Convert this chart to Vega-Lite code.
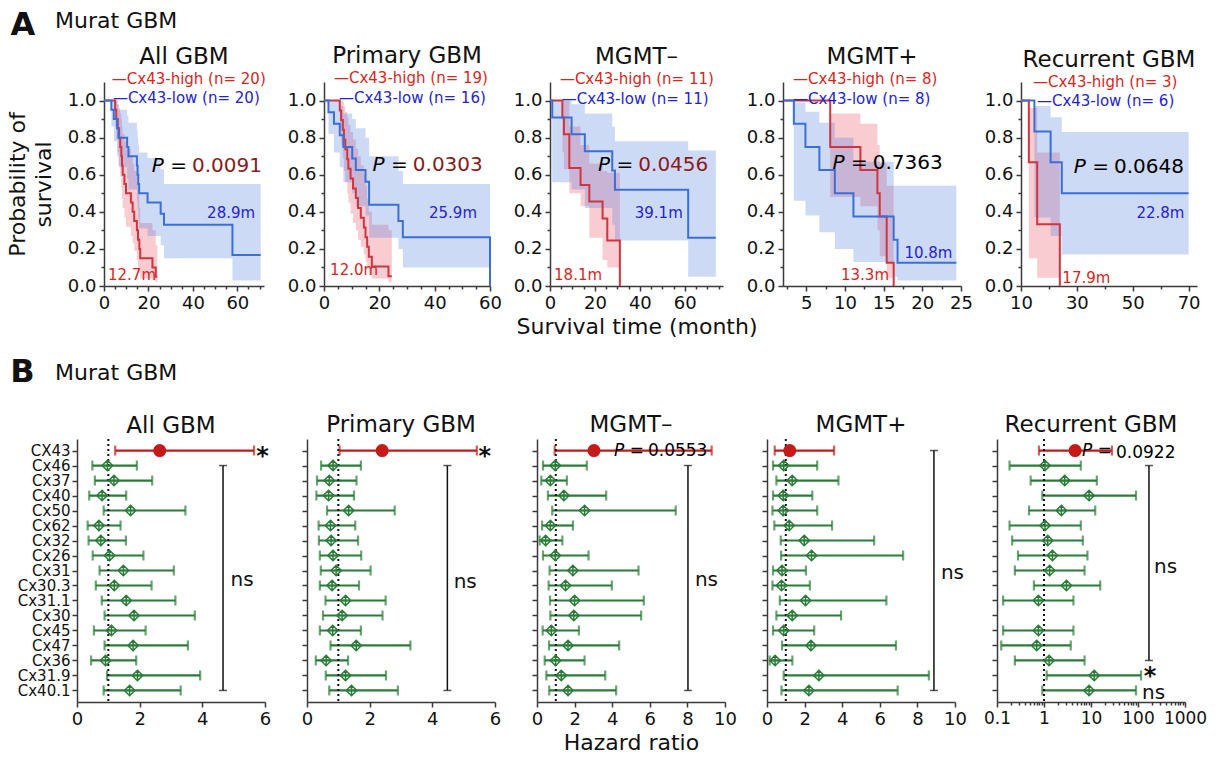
{
"$schema": "https://vega.github.io/schema/vega-lite/v6.json",
"padding": {"left": 6, "top": 8, "right": 5, "bottom": 5},
"datasets": {
"km": [
{"p":1,"g":"high","t":0,"s":1,"lo":1,"hi":1},{"p":1,"g":"high","t":5.0,"s":0.95,"lo":0.86,"hi":1},{"p":1,"g":"high","t":5.5,"s":0.90,"lo":0.79,"hi":1},{"p":1,"g":"high","t":6.2,"s":0.85,"lo":0.72,"hi":0.98},{"p":1,"g":"high","t":6.8,"s":0.80,"lo":0.65,"hi":0.96},{"p":1,"g":"high","t":7.3,"s":0.75,"lo":0.59,"hi":0.93},{"p":1,"g":"high","t":7.8,"s":0.70,"lo":0.53,"hi":0.90},{"p":1,"g":"high","t":8.1,"s":0.65,"lo":0.47,"hi":0.86},{"p":1,"g":"high","t":8.4,"s":0.60,"lo":0.42,"hi":0.82},{"p":1,"g":"high","t":9.2,"s":0.55,"lo":0.37,"hi":0.78},{"p":1,"g":"high","t":9.9,"s":0.50,"lo":0.32,"hi":0.74},{"p":1,"g":"high","t":12.1,"s":0.45,"lo":0.27,"hi":0.70},{"p":1,"g":"high","t":12.9,"s":0.40,"lo":0.23,"hi":0.66},{"p":1,"g":"high","t":13.6,"s":0.35,"lo":0.19,"hi":0.62},{"p":1,"g":"high","t":14.8,"s":0.30,"lo":0.14,"hi":0.56},{"p":1,"g":"high","t":15.3,"s":0.25,"lo":0.10,"hi":0.50},{"p":1,"g":"high","t":15.9,"s":0.20,"lo":0.07,"hi":0.42},{"p":1,"g":"high","t":16.3,"s":0.15,"lo":0.04,"hi":0.34},{"p":1,"g":"high","t":21.8,"s":0.10,"lo":0.03,"hi":0.30},{"p":1,"g":"high","t":23.3,"s":0.05,"lo":0.02,"hi":0.22},{"p":1,"g":"high","t":24.0,"s":0.05,"lo":0.02,"hi":0.22},
{"p":1,"g":"low","t":0,"s":1,"lo":1,"hi":1},{"p":1,"g":"low","t":3.3,"s":0.95,"lo":0.86,"hi":1},{"p":1,"g":"low","t":4.4,"s":0.90,"lo":0.78,"hi":1},{"p":1,"g":"low","t":5.9,"s":0.85,"lo":0.70,"hi":0.98},{"p":1,"g":"low","t":6.5,"s":0.80,"lo":0.64,"hi":0.95},{"p":1,"g":"low","t":10.4,"s":0.75,"lo":0.58,"hi":0.92},{"p":1,"g":"low","t":11.0,"s":0.70,"lo":0.52,"hi":0.88},{"p":1,"g":"low","t":14.8,"s":0.65,"lo":0.46,"hi":0.84},{"p":1,"g":"low","t":15.1,"s":0.60,"lo":0.41,"hi":0.80},{"p":1,"g":"low","t":15.4,"s":0.55,"lo":0.36,"hi":0.76},{"p":1,"g":"low","t":15.8,"s":0.50,"lo":0.31,"hi":0.72},{"p":1,"g":"low","t":19.6,"s":0.45,"lo":0.27,"hi":0.69},{"p":1,"g":"low","t":25.5,"s":0.39,"lo":0.22,"hi":0.63},{"p":1,"g":"low","t":27.0,"s":0.33,"lo":0.15,"hi":0.55},{"p":1,"g":"low","t":57.8,"s":0.167,"lo":0.03,"hi":0.55},{"p":1,"g":"low","t":70.5,"s":0.167,"lo":0.03,"hi":0.55},
{"p":2,"g":"high","t":0,"s":1,"lo":1,"hi":1},{"p":2,"g":"high","t":5.7,"s":0.947,"lo":0.85,"hi":1},{"p":2,"g":"high","t":6.2,"s":0.895,"lo":0.76,"hi":1},{"p":2,"g":"high","t":6.8,"s":0.842,"lo":0.69,"hi":0.99},{"p":2,"g":"high","t":7.2,"s":0.789,"lo":0.62,"hi":0.97},{"p":2,"g":"high","t":7.7,"s":0.737,"lo":0.56,"hi":0.94},{"p":2,"g":"high","t":8.4,"s":0.684,"lo":0.50,"hi":0.91},{"p":2,"g":"high","t":8.8,"s":0.632,"lo":0.45,"hi":0.87},{"p":2,"g":"high","t":9.6,"s":0.579,"lo":0.39,"hi":0.83},{"p":2,"g":"high","t":10.5,"s":0.526,"lo":0.34,"hi":0.79},{"p":2,"g":"high","t":11.5,"s":0.474,"lo":0.30,"hi":0.74},{"p":2,"g":"high","t":12.3,"s":0.421,"lo":0.25,"hi":0.70},{"p":2,"g":"high","t":13.3,"s":0.368,"lo":0.21,"hi":0.65},{"p":2,"g":"high","t":14.4,"s":0.316,"lo":0.17,"hi":0.60},{"p":2,"g":"high","t":15.0,"s":0.263,"lo":0.13,"hi":0.54},{"p":2,"g":"high","t":15.6,"s":0.211,"lo":0.09,"hi":0.47},{"p":2,"g":"high","t":16.2,"s":0.158,"lo":0.06,"hi":0.40},{"p":2,"g":"high","t":17.3,"s":0.105,"lo":0.04,"hi":0.33},{"p":2,"g":"high","t":23.3,"s":0.053,"lo":0.02,"hi":0.30},{"p":2,"g":"high","t":24.5,"s":0.053,"lo":0.02,"hi":0.30},
{"p":2,"g":"low","t":0,"s":1,"lo":1,"hi":1},{"p":2,"g":"low","t":1.6,"s":0.9375,"lo":0.82,"hi":1},{"p":2,"g":"low","t":3.6,"s":0.875,"lo":0.72,"hi":1},{"p":2,"g":"low","t":5.7,"s":0.8125,"lo":0.64,"hi":0.97},{"p":2,"g":"low","t":7.0,"s":0.75,"lo":0.56,"hi":0.93},{"p":2,"g":"low","t":10.2,"s":0.6875,"lo":0.50,"hi":0.90},{"p":2,"g":"low","t":11.5,"s":0.625,"lo":0.43,"hi":0.85},{"p":2,"g":"low","t":15.0,"s":0.5625,"lo":0.38,"hi":0.80},{"p":2,"g":"low","t":16.3,"s":0.4375,"lo":0.26,"hi":0.70},{"p":2,"g":"low","t":26.9,"s":0.35,"lo":0.20,"hi":0.62},{"p":2,"g":"low","t":28.5,"s":0.2625,"lo":0.10,"hi":0.55},{"p":2,"g":"low","t":60,"s":0,"lo":0.10,"hi":0.55},
{"p":3,"g":"high","t":0,"s":1,"lo":1,"hi":1},{"p":3,"g":"high","t":5.5,"s":0.909,"lo":0.72,"hi":1},{"p":3,"g":"high","t":6.2,"s":0.818,"lo":0.63,"hi":1},{"p":3,"g":"high","t":8.6,"s":0.636,"lo":0.50,"hi":0.86},{"p":3,"g":"high","t":13.6,"s":0.545,"lo":0.43,"hi":0.76},{"p":3,"g":"high","t":17.5,"s":0.455,"lo":0.26,"hi":0.66},{"p":3,"g":"high","t":23.4,"s":0.364,"lo":0.14,"hi":0.62},{"p":3,"g":"high","t":25.5,"s":0.245,"lo":0.10,"hi":0.61},{"p":3,"g":"high","t":31.1,"s":0,"lo":0.10,"hi":0.61},
{"p":3,"g":"low","t":0,"s":1,"lo":1,"hi":1},{"p":3,"g":"low","t":1.0,"s":0.909,"lo":0.56,"hi":1},{"p":3,"g":"low","t":9.6,"s":0.818,"lo":0.52,"hi":0.98},{"p":3,"g":"low","t":15.5,"s":0.727,"lo":0.42,"hi":0.93},{"p":3,"g":"low","t":27.7,"s":0.623,"lo":0.33,"hi":0.86},{"p":3,"g":"low","t":28.9,"s":0.519,"lo":0.245,"hi":0.78},{"p":3,"g":"low","t":61.5,"s":0.26,"lo":0.05,"hi":0.73},{"p":3,"g":"low","t":73.8,"s":0.26,"lo":0.05,"hi":0.73},
{"p":4,"g":"high","t":2.1,"s":1,"lo":1,"hi":1},{"p":4,"g":"high","t":8.1,"s":0.75,"lo":0.48,"hi":0.93},{"p":4,"g":"high","t":12.0,"s":0.625,"lo":0.43,"hi":0.875},{"p":4,"g":"high","t":14.2,"s":0.5,"lo":0.30,"hi":0.76},{"p":4,"g":"high","t":14.5,"s":0.375,"lo":0.16,"hi":0.66},{"p":4,"g":"high","t":15.4,"s":0.125,"lo":0.045,"hi":0.54},{"p":4,"g":"high","t":16.3,"s":0,"lo":0.045,"hi":0.54},
{"p":4,"g":"low","t":2.1,"s":1,"lo":1,"hi":1},{"p":4,"g":"low","t":3.4,"s":0.875,"lo":0.46,"hi":0.99},{"p":4,"g":"low","t":4.9,"s":0.75,"lo":0.38,"hi":0.94},{"p":4,"g":"low","t":6.7,"s":0.625,"lo":0.29,"hi":0.88},{"p":4,"g":"low","t":8.7,"s":0.5,"lo":0.20,"hi":0.80},{"p":4,"g":"low","t":11.1,"s":0.375,"lo":0.13,"hi":0.67},{"p":4,"g":"low","t":16.3,"s":0.25,"lo":0.05,"hi":0.54},{"p":4,"g":"low","t":16.8,"s":0.125,"lo":0.03,"hi":0.54},{"p":4,"g":"low","t":24.4,"s":0.125,"lo":0.03,"hi":0.54},
{"p":5,"g":"high","t":10,"s":1,"lo":1,"hi":1},{"p":5,"g":"high","t":12.8,"s":0.667,"lo":0.15,"hi":0.96},{"p":5,"g":"high","t":15.8,"s":0.333,"lo":0.045,"hi":0.72},{"p":5,"g":"high","t":23.9,"s":0,"lo":0.045,"hi":0.72},
{"p":5,"g":"low","t":10,"s":1,"lo":1,"hi":1},{"p":5,"g":"low","t":14.8,"s":0.833,"lo":0.37,"hi":0.97},{"p":5,"g":"low","t":20.6,"s":0.667,"lo":0.27,"hi":0.91},{"p":5,"g":"low","t":24.6,"s":0.5,"lo":0.17,"hi":0.83},{"p":5,"g":"low","t":70,"s":0.5,"lo":0.17,"hi":0.83}
],
"hr": [
{"p":1,"gene":"CX43","hr":2.64,"lo":1.22,"hi":5.65},{"p":1,"gene":"Cx46","hr":0.97,"lo":0.49,"hi":1.91},{"p":1,"gene":"Cx37","hr":1.18,"lo":0.57,"hi":2.40},{"p":1,"gene":"Cx40","hr":0.80,"lo":0.39,"hi":1.57},{"p":1,"gene":"Cx50","hr":1.71,"lo":0.85,"hi":3.46},{"p":1,"gene":"Cx62","hr":0.70,"lo":0.34,"hi":1.39},{"p":1,"gene":"Cx32","hr":0.76,"lo":0.37,"hi":1.56},{"p":1,"gene":"Cx26","hr":1.04,"lo":0.50,"hi":2.12},{"p":1,"gene":"Cx31","hr":1.48,"lo":0.72,"hi":3.09},{"p":1,"gene":"Cx30.3","hr":1.19,"lo":0.60,"hi":2.38},{"p":1,"gene":"Cx31.1","hr":1.57,"lo":0.79,"hi":3.14},{"p":1,"gene":"Cx30","hr":1.82,"lo":0.88,"hi":3.76},{"p":1,"gene":"Cx45","hr":1.10,"lo":0.54,"hi":2.19},{"p":1,"gene":"Cx47","hr":1.79,"lo":0.88,"hi":3.54},{"p":1,"gene":"Cx36","hr":0.91,"lo":0.45,"hi":1.89},{"p":1,"gene":"Cx31.9","hr":1.93,"lo":0.96,"hi":3.93},{"p":1,"gene":"Cx40.1","hr":1.68,"lo":0.85,"hi":3.31},
{"p":2,"gene":"CX43","hr":2.40,"lo":1.04,"hi":5.42},{"p":2,"gene":"Cx46","hr":0.83,"lo":0.45,"hi":1.72},{"p":2,"gene":"Cx37","hr":0.71,"lo":0.32,"hi":1.58},{"p":2,"gene":"Cx40","hr":0.69,"lo":0.30,"hi":1.50},{"p":2,"gene":"Cx50","hr":1.33,"lo":0.64,"hi":2.80},{"p":2,"gene":"Cx62","hr":0.75,"lo":0.37,"hi":1.54},{"p":2,"gene":"Cx32","hr":0.77,"lo":0.38,"hi":1.63},{"p":2,"gene":"Cx26","hr":0.83,"lo":0.41,"hi":1.73},{"p":2,"gene":"Cx31","hr":0.93,"lo":0.44,"hi":2.03},{"p":2,"gene":"Cx30.3","hr":0.80,"lo":0.41,"hi":1.66},{"p":2,"gene":"Cx31.1","hr":1.23,"lo":0.59,"hi":2.51},{"p":2,"gene":"Cx30","hr":1.12,"lo":0.51,"hi":2.41},{"p":2,"gene":"Cx45","hr":0.82,"lo":0.41,"hi":1.72},{"p":2,"gene":"Cx47","hr":1.57,"lo":0.75,"hi":3.30},{"p":2,"gene":"Cx36","hr":0.61,"lo":0.28,"hi":1.31},{"p":2,"gene":"Cx31.9","hr":1.23,"lo":0.60,"hi":2.52},{"p":2,"gene":"Cx40.1","hr":1.42,"lo":0.71,"hi":2.90},
{"p":3,"gene":"CX43","hr":3.03,"lo":0.94,"hi":9.29},{"p":3,"gene":"Cx46","hr":0.97,"lo":0.32,"hi":2.65},{"p":3,"gene":"Cx37","hr":0.71,"lo":0.23,"hi":1.59},{"p":3,"gene":"Cx40","hr":1.43,"lo":0.58,"hi":3.68},{"p":3,"gene":"Cx50","hr":2.53,"lo":0.81,"hi":7.38},{"p":3,"gene":"Cx62","hr":0.71,"lo":0.27,"hi":1.91},{"p":3,"gene":"Cx32","hr":0.46,"lo":0.14,"hi":1.35},{"p":3,"gene":"Cx26","hr":0.97,"lo":0.32,"hi":2.74},{"p":3,"gene":"Cx31","hr":1.91,"lo":0.67,"hi":5.40},{"p":3,"gene":"Cx30.3","hr":1.52,"lo":0.62,"hi":3.98},{"p":3,"gene":"Cx31.1","hr":2.00,"lo":0.69,"hi":5.68},{"p":3,"gene":"Cx30","hr":1.96,"lo":0.71,"hi":5.54},{"p":3,"gene":"Cx45","hr":0.76,"lo":0.30,"hi":2.23},{"p":3,"gene":"Cx47","hr":1.65,"lo":0.64,"hi":4.37},{"p":3,"gene":"Cx36","hr":0.99,"lo":0.41,"hi":2.53},{"p":3,"gene":"Cx31.9","hr":1.29,"lo":0.50,"hi":3.63},{"p":3,"gene":"Cx40.1","hr":1.65,"lo":0.65,"hi":4.21},
{"p":4,"gene":"CX43","hr":1.21,"lo":0.41,"hi":3.57},{"p":4,"gene":"Cx46","hr":0.89,"lo":0.32,"hi":2.67},{"p":4,"gene":"Cx37","hr":1.34,"lo":0.50,"hi":3.80},{"p":4,"gene":"Cx40","hr":0.86,"lo":0.32,"hi":2.41},{"p":4,"gene":"Cx50","hr":0.86,"lo":0.29,"hi":2.67},{"p":4,"gene":"Cx62","hr":1.18,"lo":0.39,"hi":3.46},{"p":4,"gene":"Cx32","hr":1.98,"lo":0.73,"hi":5.70},{"p":4,"gene":"Cx26","hr":2.37,"lo":0.75,"hi":7.24},{"p":4,"gene":"Cx31","hr":0.80,"lo":0.32,"hi":2.07},{"p":4,"gene":"Cx30.3","hr":0.77,"lo":0.29,"hi":2.28},{"p":4,"gene":"Cx31.1","hr":2.05,"lo":0.68,"hi":6.35},{"p":4,"gene":"Cx30","hr":1.34,"lo":0.50,"hi":3.94},{"p":4,"gene":"Cx45","hr":0.89,"lo":0.32,"hi":2.51},{"p":4,"gene":"Cx47","hr":2.34,"lo":0.80,"hi":6.86},{"p":4,"gene":"Cx36","hr":0.43,"lo":0.14,"hi":1.35},{"p":4,"gene":"Cx31.9","hr":2.76,"lo":0.89,"hi":8.61},{"p":4,"gene":"Cx40.1","hr":2.23,"lo":0.77,"hi":6.95},
{"p":5,"gene":"CX43","hr":4.59,"lo":0.78,"hi":27.9},{"p":5,"gene":"Cx46","hr":1.05,"lo":0.185,"hi":6.07},{"p":5,"gene":"Cx37","hr":2.76,"lo":0.52,"hi":13.3},{"p":5,"gene":"Cx40","hr":9.1,"lo":0.92,"hi":90.6},{"p":5,"gene":"Cx50","hr":2.34,"lo":0.48,"hi":12.3},{"p":5,"gene":"Cx62","hr":1.05,"lo":0.185,"hi":6.07},{"p":5,"gene":"Cx32","hr":1.20,"lo":0.21,"hi":6.7},{"p":5,"gene":"Cx26","hr":1.51,"lo":0.28,"hi":8.4},{"p":5,"gene":"Cx31","hr":1.32,"lo":0.24,"hi":7.3},{"p":5,"gene":"Cx30.3","hr":3.0,"lo":0.61,"hi":15.7},{"p":5,"gene":"Cx31.1","hr":0.76,"lo":0.135,"hi":4.23},{"p":5,"gene":"Cx45","hr":0.76,"lo":0.135,"hi":4.23},{"p":5,"gene":"Cx47","hr":0.70,"lo":0.123,"hi":3.71},{"p":5,"gene":"Cx36","hr":1.28,"lo":0.24,"hi":7.3},{"p":5,"gene":"Cx31.9","hr":11.7,"lo":1.14,"hi":116},{"p":5,"gene":"Cx40.1","hr":9.1,"lo":0.92,"hi":90.6}
]
},
"vconcat": [
{"hconcat": [
{"width": 1, "height": 1, "data": {"values": []}, "mark": "point"},
{"hconcat": [
{"width": 160, "height": 204, "title": {"text": "All GBM", "offset": -60},
 "resolve": {"axis": {"x": "independent", "y": "independent"}},
 "layer": [
 {"layer": [
  {"data": {"name": "km"}, "transform": [{"filter": "datum.p == 1"}], "mark": {"type": "area", "interpolate": "step-after", "fillOpacity": 0.28},
   "encoding": {"x": {"field": "t", "type": "quantitative", "scale": {"domain": [0, 72], "nice": false, "zero": false}, "axis": {"values": [0, 20, 40, 60], "labelOverlap": false, "title": null}},
    "y": {"field": "lo", "type": "quantitative", "scale": {"domain": [0, 1.1], "nice": false}, "axis": {"values": [0, 0.2, 0.4, 0.6, 0.8, 1], "labelOverlap": false, "format": ".1f", "title": ["Probability of", "survival"], "titlePadding": 12, "titleLineHeight": 26}},
    "y2": {"field": "hi"},
    "fill": {"field": "g", "type": "nominal", "scale": {"domain": ["high", "low"], "range": ["#e8495a", "#4a7ae0"]}, "legend": null}}},
  {"data": {"name": "km"}, "transform": [{"filter": "datum.p == 1"}], "mark": {"type": "line", "interpolate": "step-after", "strokeWidth": 2},
   "encoding": {"x": {"field": "t", "type": "quantitative", "title": null}, "y": {"field": "s", "type": "quantitative", "title": ["Probability of", "survival"]},
    "stroke": {"field": "g", "type": "nominal", "scale": {"domain": ["high", "low"], "range": ["#d0353f", "#3a6fd8"]}, "legend": null}}},
  {"data": {"values": [{}]}, "mark": {"type": "text", "align": "left", "fontSize": 15, "color": "#d9261c"}, "encoding": {"x": {"datum": 3.5}, "y": {"datum": 1.116}, "text": {"value": "—Cx43-high (n= 20)"}}},
  {"data": {"values": [{}]}, "mark": {"type": "text", "align": "left", "fontSize": 15, "color": "#2323d6"}, "encoding": {"x": {"datum": 4.0}, "y": {"datum": 1.013}, "text": {"value": "—Cx43-low (n= 20)"}}},
  {"data": {"values": [{}]}, "mark": {"type": "text", "align": "right", "dx": -5, "fontSize": 20, "fontStyle": "italic", "color": "#000"}, "encoding": {"x": {"datum": 39.6}, "y": {"datum": 0.647}, "text": {"value": "P ="}}},
  {"data": {"values": [{}]}, "mark": {"type": "text", "align": "left", "fontSize": 20, "color": "#8b1a1a"}, "encoding": {"x": {"datum": 39.6}, "y": {"datum": 0.647}, "text": {"value": "0.0091"}}},
  {"data": {"values": [{}]}, "mark": {"type": "text", "align": "right", "fontSize": 15, "color": "#2323d6"}, "encoding": {"x": {"datum": 68}, "y": {"datum": 0.393}, "text": {"value": "28.9m"}}},
  {"data": {"values": [{}]}, "mark": {"type": "text", "align": "left", "fontSize": 15, "color": "#d9261c"}, "encoding": {"x": {"datum": 1.8}, "y": {"datum": 0.059}, "text": {"value": "12.7m"}}},
  {"data": {"values": [{}]}, "mark": {"type": "text", "align": "center", "fontSize": 32, "fontWeight": "bold", "color": "#111"}, "encoding": {"x": {"datum": -36.5}, "y": {"datum": 1.41}, "text": {"value": "A"}}},
  {"data": {"values": [{}]}, "mark": {"type": "text", "align": "left", "fontSize": 22, "color": "#111"}, "encoding": {"x": {"datum": -22}, "y": {"datum": 1.43}, "text": {"value": "Murat GBM"}}}
 ]},
 {"data": {"values": [{}]}, "mark": {"type": "text", "text": ""}, "encoding": {"x": {"datum": 10, "axis": {"values": [5, 10, 15, 25, 30, 35, 45, 50, 55, 65, 70], "labels": false, "domain": false, "tickSize": 3, "title": null, "orient": "bottom"}}, "y": {"datum": 0.5, "axis": {"values": [0.1, 0.3, 0.5, 0.7, 0.9], "labels": false, "domain": false, "tickSize": 3, "title": null, "orient": "left"}}}}
 ]},
{"width": 166, "height": 204, "title": {"text": "Primary GBM", "offset": 3},
 "resolve": {"axis": {"x": "independent", "y": "independent"}},
 "layer": [
 {"layer": [
  {"data": {"name": "km"}, "transform": [{"filter": "datum.p == 2"}], "mark": {"type": "area", "interpolate": "step-after", "fillOpacity": 0.28},
   "encoding": {"x": {"field": "t", "type": "quantitative", "scale": {"domain": [0, 60], "nice": false, "zero": false}, "axis": {"values": [0, 20, 40, 60], "labelOverlap": false, "title": null}},
    "y": {"field": "lo", "type": "quantitative", "scale": {"domain": [0, 1.1], "nice": false}, "axis": {"values": [0, 0.2, 0.4, 0.6, 0.8, 1], "labelOverlap": false, "format": ".1f", "title": null}},
    "y2": {"field": "hi"},
    "fill": {"field": "g", "type": "nominal", "scale": {"domain": ["high", "low"], "range": ["#e8495a", "#4a7ae0"]}, "legend": null}}},
  {"data": {"name": "km"}, "transform": [{"filter": "datum.p == 2"}], "mark": {"type": "line", "interpolate": "step-after", "strokeWidth": 2},
   "encoding": {"x": {"field": "t", "type": "quantitative", "title": null}, "y": {"field": "s", "type": "quantitative", "title": null},
    "stroke": {"field": "g", "type": "nominal", "scale": {"domain": ["high", "low"], "range": ["#d0353f", "#3a6fd8"]}, "legend": null}}},
  {"data": {"values": [{}]}, "mark": {"type": "text", "align": "left", "fontSize": 15, "color": "#d9261c"}, "encoding": {"x": {"datum": 3.6}, "y": {"datum": 1.123}, "text": {"value": "—Cx43-high (n= 19)"}}},
  {"data": {"values": [{}]}, "mark": {"type": "text", "align": "left", "fontSize": 15, "color": "#2323d6"}, "encoding": {"x": {"datum": 5.4}, "y": {"datum": 1.013}, "text": {"value": "—Cx43-low (n= 16)"}}},
  {"data": {"values": [{}]}, "mark": {"type": "text", "align": "right", "dx": -5, "fontSize": 20, "fontStyle": "italic", "color": "#000"}, "encoding": {"x": {"datum": 32.1}, "y": {"datum": 0.652}, "text": {"value": "P ="}}},
  {"data": {"values": [{}]}, "mark": {"type": "text", "align": "left", "fontSize": 20, "color": "#8b1a1a"}, "encoding": {"x": {"datum": 32.1}, "y": {"datum": 0.652}, "text": {"value": "0.0303"}}},
  {"data": {"values": [{}]}, "mark": {"type": "text", "align": "right", "fontSize": 15, "color": "#2323d6"}, "encoding": {"x": {"datum": 55.3}, "y": {"datum": 0.395}, "text": {"value": "25.9m"}}},
  {"data": {"values": [{}]}, "mark": {"type": "text", "align": "left", "fontSize": 15, "color": "#d9261c"}, "encoding": {"x": {"datum": 2.2}, "y": {"datum": 0.086}, "text": {"value": "12.0m"}}}
 ]},
 {"data": {"values": [{}]}, "mark": {"type": "text", "text": ""}, "encoding": {"x": {"datum": 10, "axis": {"values": [5, 10, 15, 25, 30, 35, 45, 50, 55], "labels": false, "domain": false, "tickSize": 3, "title": null, "orient": "bottom"}}, "y": {"datum": 0.5, "axis": {"values": [0.1, 0.3, 0.5, 0.7, 0.9], "labels": false, "domain": false, "tickSize": 3, "title": null, "orient": "left"}}}}
 ]},
{"width": 173, "height": 204, "title": {"text": "MGMT–", "offset": 3},
 "resolve": {"axis": {"x": "independent", "y": "independent"}},
 "layer": [
 {"layer": [
  {"data": {"name": "km"}, "transform": [{"filter": "datum.p == 3"}], "mark": {"type": "area", "interpolate": "step-after", "fillOpacity": 0.28},
   "encoding": {"x": {"field": "t", "type": "quantitative", "scale": {"domain": [0, 77], "nice": false, "zero": false}, "axis": {"values": [0, 20, 40, 60], "labelOverlap": false, "title": "Survival time (month)"}},
    "y": {"field": "lo", "type": "quantitative", "scale": {"domain": [0, 1.1], "nice": false}, "axis": {"values": [0, 0.2, 0.4, 0.6, 0.8, 1], "labelOverlap": false, "format": ".1f", "title": null}},
    "y2": {"field": "hi"},
    "fill": {"field": "g", "type": "nominal", "scale": {"domain": ["high", "low"], "range": ["#e8495a", "#4a7ae0"]}, "legend": null}}},
  {"data": {"name": "km"}, "transform": [{"filter": "datum.p == 3"}], "mark": {"type": "line", "interpolate": "step-after", "strokeWidth": 2},
   "encoding": {"x": {"field": "t", "type": "quantitative", "title": "Survival time (month)"}, "y": {"field": "s", "type": "quantitative", "title": null},
    "stroke": {"field": "g", "type": "nominal", "scale": {"domain": ["high", "low"], "range": ["#d0353f", "#3a6fd8"]}, "legend": null}}},
  {"data": {"values": [{}]}, "mark": {"type": "text", "align": "left", "fontSize": 15, "color": "#d9261c"}, "encoding": {"x": {"datum": 4.4}, "y": {"datum": 1.116}, "text": {"value": "—Cx43-high (n= 11)"}}},
  {"data": {"values": [{}]}, "mark": {"type": "text", "align": "left", "fontSize": 15, "color": "#2323d6"}, "encoding": {"x": {"datum": 5.2}, "y": {"datum": 1.008}, "text": {"value": "—Cx43-low (n= 11)"}}},
  {"data": {"values": [{}]}, "mark": {"type": "text", "align": "right", "dx": -5, "fontSize": 20, "fontStyle": "italic", "color": "#000"}, "encoding": {"x": {"datum": 39.3}, "y": {"datum": 0.652}, "text": {"value": "P ="}}},
  {"data": {"values": [{}]}, "mark": {"type": "text", "align": "left", "fontSize": 20, "color": "#8b1a1a"}, "encoding": {"x": {"datum": 39.3}, "y": {"datum": 0.652}, "text": {"value": "0.0456"}}},
  {"data": {"values": [{}]}, "mark": {"type": "text", "align": "right", "fontSize": 15, "color": "#2323d6"}, "encoding": {"x": {"datum": 59.1}, "y": {"datum": 0.393}, "text": {"value": "39.1m"}}},
  {"data": {"values": [{}]}, "mark": {"type": "text", "align": "left", "fontSize": 15, "color": "#d9261c"}, "encoding": {"x": {"datum": 1.8}, "y": {"datum": 0.059}, "text": {"value": "18.1m"}}}
 ]},
 {"data": {"values": [{}]}, "mark": {"type": "text", "text": ""}, "encoding": {"x": {"datum": 10, "axis": {"values": [5, 10, 15, 25, 30, 35, 45, 50, 55, 65, 70, 75], "labels": false, "domain": false, "tickSize": 3, "title": null, "orient": "bottom"}}, "y": {"datum": 0.5, "axis": {"values": [0.1, 0.3, 0.5, 0.7, 0.9], "labels": false, "domain": false, "tickSize": 3, "title": null, "orient": "left"}}}}
 ]},
{"width": 178, "height": 204, "title": {"text": "MGMT+", "offset": 3},
 "resolve": {"axis": {"x": "independent", "y": "independent"}},
 "layer": [
 {"layer": [
  {"data": {"name": "km"}, "transform": [{"filter": "datum.p == 4"}], "mark": {"type": "area", "interpolate": "step-after", "fillOpacity": 0.28},
   "encoding": {"x": {"field": "t", "type": "quantitative", "scale": {"domain": [2, 25], "nice": false, "zero": false}, "axis": {"values": [5, 10, 15, 20, 25], "labelOverlap": false, "title": null}},
    "y": {"field": "lo", "type": "quantitative", "scale": {"domain": [0, 1.1], "nice": false}, "axis": {"values": [0, 0.2, 0.4, 0.6, 0.8, 1], "labelOverlap": false, "format": ".1f", "title": null}},
    "y2": {"field": "hi"},
    "fill": {"field": "g", "type": "nominal", "scale": {"domain": ["high", "low"], "range": ["#e8495a", "#4a7ae0"]}, "legend": null}}},
  {"data": {"name": "km"}, "transform": [{"filter": "datum.p == 4"}], "mark": {"type": "line", "interpolate": "step-after", "strokeWidth": 2},
   "encoding": {"x": {"field": "t", "type": "quantitative", "title": null}, "y": {"field": "s", "type": "quantitative", "title": null},
    "stroke": {"field": "g", "type": "nominal", "scale": {"domain": ["high", "low"], "range": ["#d0353f", "#3a6fd8"]}, "legend": null}}},
  {"data": {"values": [{}]}, "mark": {"type": "text", "align": "left", "fontSize": 15, "color": "#d9261c"}, "encoding": {"x": {"datum": 3.3}, "y": {"datum": 1.116}, "text": {"value": "—Cx43-high (n= 8)"}}},
  {"data": {"values": [{}]}, "mark": {"type": "text", "align": "left", "fontSize": 15, "color": "#2323d6"}, "encoding": {"x": {"datum": 3.3}, "y": {"datum": 1.008}, "text": {"value": "—Cx43-low (n= 8)"}}},
  {"data": {"values": [{}]}, "mark": {"type": "text", "align": "right", "dx": -5, "fontSize": 20, "fontStyle": "italic", "color": "#000"}, "encoding": {"x": {"datum": 13.6}, "y": {"datum": 0.663}, "text": {"value": "P ="}}},
  {"data": {"values": [{}]}, "mark": {"type": "text", "align": "left", "fontSize": 20, "color": "#000"}, "encoding": {"x": {"datum": 13.6}, "y": {"datum": 0.663}, "text": {"value": "0.7363"}}},
  {"data": {"values": [{}]}, "mark": {"type": "text", "align": "right", "fontSize": 15, "color": "#2323d6"}, "encoding": {"x": {"datum": 23.9}, "y": {"datum": 0.18}, "text": {"value": "10.8m"}}},
  {"data": {"values": [{}]}, "mark": {"type": "text", "align": "right", "fontSize": 15, "color": "#d9261c"}, "encoding": {"x": {"datum": 15.7}, "y": {"datum": 0.059}, "text": {"value": "13.3m"}}}
 ]},
 {"data": {"values": [{}]}, "mark": {"type": "text", "text": ""}, "encoding": {"x": {"datum": 10, "axis": {"values": [2.5, 7.5, 12.5, 17.5, 22.5], "labels": false, "domain": false, "tickSize": 3, "title": null, "orient": "bottom"}}, "y": {"datum": 0.5, "axis": {"values": [0.1, 0.3, 0.5, 0.7, 0.9], "labels": false, "domain": false, "tickSize": 3, "title": null, "orient": "left"}}}}
 ]},
{"width": 176, "height": 204, "title": {"text": "Recurrent GBM", "offset": 3},
 "resolve": {"axis": {"x": "independent", "y": "independent"}},
 "layer": [
 {"layer": [
  {"data": {"name": "km"}, "transform": [{"filter": "datum.p == 5"}], "mark": {"type": "area", "interpolate": "step-after", "fillOpacity": 0.28},
   "encoding": {"x": {"field": "t", "type": "quantitative", "scale": {"domain": [10, 73], "nice": false, "zero": false}, "axis": {"values": [10, 30, 50, 70], "labelOverlap": false, "title": null}},
    "y": {"field": "lo", "type": "quantitative", "scale": {"domain": [0, 1.1], "nice": false}, "axis": {"values": [0, 0.2, 0.4, 0.6, 0.8, 1], "labelOverlap": false, "format": ".1f", "title": null}},
    "y2": {"field": "hi"},
    "fill": {"field": "g", "type": "nominal", "scale": {"domain": ["high", "low"], "range": ["#e8495a", "#4a7ae0"]}, "legend": null}}},
  {"data": {"name": "km"}, "transform": [{"filter": "datum.p == 5"}], "mark": {"type": "line", "interpolate": "step-after", "strokeWidth": 2},
   "encoding": {"x": {"field": "t", "type": "quantitative", "title": null}, "y": {"field": "s", "type": "quantitative", "title": null},
    "stroke": {"field": "g", "type": "nominal", "scale": {"domain": ["high", "low"], "range": ["#d0353f", "#3a6fd8"]}, "legend": null}}},
  {"data": {"values": [{}]}, "mark": {"type": "text", "align": "left", "fontSize": 15, "color": "#d9261c"}, "encoding": {"x": {"datum": 14.3}, "y": {"datum": 1.10}, "text": {"value": "—Cx43-high (n= 3)"}}},
  {"data": {"values": [{}]}, "mark": {"type": "text", "align": "left", "fontSize": 15, "color": "#2323d6"}, "encoding": {"x": {"datum": 15.7}, "y": {"datum": 0.997}, "text": {"value": "—Cx43-low (n= 6)"}}},
  {"data": {"values": [{}]}, "mark": {"type": "text", "align": "right", "dx": -5, "fontSize": 20, "fontStyle": "italic", "color": "#000"}, "encoding": {"x": {"datum": 43.3}, "y": {"datum": 0.643}, "text": {"value": "P ="}}},
  {"data": {"values": [{}]}, "mark": {"type": "text", "align": "left", "fontSize": 20, "color": "#000"}, "encoding": {"x": {"datum": 43.3}, "y": {"datum": 0.643}, "text": {"value": "0.0648"}}},
  {"data": {"values": [{}]}, "mark": {"type": "text", "align": "right", "fontSize": 15, "color": "#2323d6"}, "encoding": {"x": {"datum": 68.5}, "y": {"datum": 0.395}, "text": {"value": "22.8m"}}},
  {"data": {"values": [{}]}, "mark": {"type": "text", "align": "left", "fontSize": 15, "color": "#d9261c"}, "encoding": {"x": {"datum": 24.8}, "y": {"datum": 0.043}, "text": {"value": "17.9m"}}}
 ]},
 {"data": {"values": [{}]}, "mark": {"type": "text", "text": ""}, "encoding": {"x": {"datum": 20, "axis": {"values": [20, 40, 60], "labels": false, "domain": false, "tickSize": 3, "title": null, "orient": "bottom"}}, "y": {"datum": 0.5, "axis": {"values": [0.1, 0.3, 0.5, 0.7, 0.9], "labels": false, "domain": false, "tickSize": 3, "title": null, "orient": "left"}}}}
 ]}
], "spacing": 60, "bounds": "flush"}
], "spacing": 26, "bounds": "flush"},
{"hconcat": [
{"width": 188, "height": 263, "title": {"text": "All GBM", "offset": -82},
 "layer": [
  {"data": {"name": "hr"}, "transform": [{"filter": "datum.p == 1"}], "mark": {"type": "rule", "strokeWidth": 2.2},
   "encoding": {"x": {"field": "lo", "type": "quantitative", "scale": {"domain": [0, 6], "nice": false}, "axis": {"values": [0, 2, 4, 6], "labelOverlap": false, "title": null}}, "x2": {"field": "hi"},
    "y": {"field": "gene", "type": "nominal", "scale": {"type": "point", "domain": ["CX43","Cx46","Cx37","Cx40","Cx50","Cx62","Cx32","Cx26","Cx31","Cx30.3","Cx31.1","Cx30","Cx45","Cx47","Cx36","Cx31.9","Cx40.1"], "padding": 0.77}, "axis": {"title": null, "labelFontSize": 15, "labelOverlap": false, "labelPadding": 2}},
    "color": {"condition": {"test": "datum.gene == 'CX43'", "value": "#c41a1a"}, "value": "#2a7d38"}}},
  {"data": {"name": "hr"}, "transform": [{"filter": "datum.p == 1"}], "mark": {"type": "tick", "orient": "vertical", "size": 10, "thickness": 2.2},
   "encoding": {"x": {"field": "lo", "type": "quantitative", "title": null}, "y": {"field": "gene", "type": "nominal", "title": null}, "color": {"condition": {"test": "datum.gene == 'CX43'", "value": "#c41a1a"}, "value": "#2a7d38"}}},
  {"data": {"name": "hr"}, "transform": [{"filter": "datum.p == 1"}], "mark": {"type": "tick", "orient": "vertical", "size": 10, "thickness": 2.2},
   "encoding": {"x": {"field": "hi", "type": "quantitative", "title": null}, "y": {"field": "gene", "type": "nominal", "title": null}, "color": {"condition": {"test": "datum.gene == 'CX43'", "value": "#c41a1a"}, "value": "#2a7d38"}}},
  {"data": {"values": [{}]}, "mark": {"type": "rule", "strokeDash": [2, 3], "strokeWidth": 2, "color": "#111"}, "encoding": {"x": {"datum": 1}}},
  {"data": {"name": "hr"}, "transform": [{"filter": "datum.p == 1 && datum.gene == 'CX43'"}], "mark": {"type": "point", "shape": "circle", "filled": true, "size": 170, "color": "#c41a1a", "opacity": 1},
   "encoding": {"x": {"field": "hr", "type": "quantitative", "title": null}, "y": {"field": "gene", "type": "nominal", "title": null}}},
  {"data": {"name": "hr"}, "transform": [{"filter": "datum.p == 1 && datum.gene != 'CX43'"}], "mark": {"type": "point", "shape": "M0,-1L1,0L0,1L-1,0Z M0,-1L0,1 M-1,0L1,0", "filled": false, "size": 110, "color": "#2a7d38", "strokeWidth": 1.5, "opacity": 1},
   "encoding": {"x": {"field": "hr", "type": "quantitative", "title": null}, "y": {"field": "gene", "type": "nominal", "title": null}}},
  {"data": {"values": [{}]}, "mark": {"type": "rule", "color": "#111", "strokeWidth": 1.5}, "encoding": {"x": {"datum": 4.66}, "y": {"datum": "Cx46"}, "y2": {"datum": "Cx40.1"}}},
  {"data": {"values": [{}]}, "mark": {"type": "tick", "orient": "horizontal", "size": 8, "thickness": 1.5, "color": "#111"}, "encoding": {"x": {"datum": 4.66}, "y": {"datum": "Cx46"}}},
  {"data": {"values": [{}]}, "mark": {"type": "tick", "orient": "horizontal", "size": 8, "thickness": 1.5, "color": "#111"}, "encoding": {"x": {"datum": 4.66}, "y": {"datum": "Cx40.1"}}},
  {"data": {"values": [{}]}, "mark": {"type": "text", "align": "left", "fontSize": 20, "dy": 9, "color": "#111"}, "encoding": {"x": {"datum": 4.9}, "y": {"datum": "Cx31"}, "text": {"value": "ns"}}},
  {"data": {"values": [{}]}, "mark": {"type": "text", "align": "center", "fontSize": 24, "fontWeight": "bold", "dy": 6, "color": "#111"}, "encoding": {"x": {"datum": 5.92}, "y": {"datum": "CX43"}, "text": {"value": "*"}}},
  {"data": {"values": [{}]}, "mark": {"type": "text", "align": "center", "fontSize": 32, "fontWeight": "bold", "dy": -79, "color": "#111"}, "encoding": {"x": {"datum": -1.74}, "y": {"datum": "CX43"}, "text": {"value": "B"}}},
  {"data": {"values": [{}]}, "mark": {"type": "text", "align": "left", "fontSize": 22, "dy": -78, "color": "#111"}, "encoding": {"x": {"datum": -0.7}, "y": {"datum": "CX43"}, "text": {"value": "Murat GBM"}}}
 ]},
{"width": 188, "height": 263, "title": {"text": "Primary GBM", "offset": 1},
 "layer": [
  {"data": {"name": "hr"}, "transform": [{"filter": "datum.p == 2"}], "mark": {"type": "rule", "strokeWidth": 2.2},
   "encoding": {"x": {"field": "lo", "type": "quantitative", "scale": {"domain": [0, 6], "nice": false}, "axis": {"values": [0, 2, 4, 6], "labelOverlap": false, "title": null}}, "x2": {"field": "hi"},
    "y": {"field": "gene", "type": "nominal", "scale": {"type": "point", "domain": ["CX43","Cx46","Cx37","Cx40","Cx50","Cx62","Cx32","Cx26","Cx31","Cx30.3","Cx31.1","Cx30","Cx45","Cx47","Cx36","Cx31.9","Cx40.1"], "padding": 0.77}, "axis": {"title": null, "labels": false}},
    "color": {"condition": {"test": "datum.gene == 'CX43'", "value": "#c41a1a"}, "value": "#2a7d38"}}},
  {"data": {"name": "hr"}, "transform": [{"filter": "datum.p == 2"}], "mark": {"type": "tick", "orient": "vertical", "size": 10, "thickness": 2.2},
   "encoding": {"x": {"field": "lo", "type": "quantitative", "title": null}, "y": {"field": "gene", "type": "nominal", "title": null}, "color": {"condition": {"test": "datum.gene == 'CX43'", "value": "#c41a1a"}, "value": "#2a7d38"}}},
  {"data": {"name": "hr"}, "transform": [{"filter": "datum.p == 2"}], "mark": {"type": "tick", "orient": "vertical", "size": 10, "thickness": 2.2},
   "encoding": {"x": {"field": "hi", "type": "quantitative", "title": null}, "y": {"field": "gene", "type": "nominal", "title": null}, "color": {"condition": {"test": "datum.gene == 'CX43'", "value": "#c41a1a"}, "value": "#2a7d38"}}},
  {"data": {"values": [{}]}, "mark": {"type": "rule", "strokeDash": [2, 3], "strokeWidth": 2, "color": "#111"}, "encoding": {"x": {"datum": 1}}},
  {"data": {"name": "hr"}, "transform": [{"filter": "datum.p == 2 && datum.gene == 'CX43'"}], "mark": {"type": "point", "shape": "circle", "filled": true, "size": 170, "color": "#c41a1a", "opacity": 1},
   "encoding": {"x": {"field": "hr", "type": "quantitative", "title": null}, "y": {"field": "gene", "type": "nominal", "title": null}}},
  {"data": {"name": "hr"}, "transform": [{"filter": "datum.p == 2 && datum.gene != 'CX43'"}], "mark": {"type": "point", "shape": "M0,-1L1,0L0,1L-1,0Z M0,-1L0,1 M-1,0L1,0", "filled": false, "size": 110, "color": "#2a7d38", "strokeWidth": 1.5, "opacity": 1},
   "encoding": {"x": {"field": "hr", "type": "quantitative", "title": null}, "y": {"field": "gene", "type": "nominal", "title": null}}},
  {"data": {"values": [{}]}, "mark": {"type": "rule", "color": "#111", "strokeWidth": 1.5}, "encoding": {"x": {"datum": 4.48}, "y": {"datum": "Cx46"}, "y2": {"datum": "Cx40.1"}}},
  {"data": {"values": [{}]}, "mark": {"type": "tick", "orient": "horizontal", "size": 8, "thickness": 1.5, "color": "#111"}, "encoding": {"x": {"datum": 4.48}, "y": {"datum": "Cx46"}}},
  {"data": {"values": [{}]}, "mark": {"type": "tick", "orient": "horizontal", "size": 8, "thickness": 1.5, "color": "#111"}, "encoding": {"x": {"datum": 4.48}, "y": {"datum": "Cx40.1"}}},
  {"data": {"values": [{}]}, "mark": {"type": "text", "align": "left", "fontSize": 20, "dy": 11, "color": "#111"}, "encoding": {"x": {"datum": 4.68}, "y": {"datum": "Cx31"}, "text": {"value": "ns"}}},
  {"data": {"values": [{}]}, "mark": {"type": "text", "align": "center", "fontSize": 24, "fontWeight": "bold", "dy": 6, "color": "#111"}, "encoding": {"x": {"datum": 5.67}, "y": {"datum": "CX43"}, "text": {"value": "*"}}}
 ]},
{"width": 188, "height": 263, "title": {"text": "MGMT–", "offset": 1},
 "resolve": {"axis": {"x": "independent"}},
 "layer": [
 {"layer": [
  {"data": {"name": "hr"}, "transform": [{"filter": "datum.p == 3"}], "mark": {"type": "rule", "strokeWidth": 2.2},
   "encoding": {"x": {"field": "lo", "type": "quantitative", "scale": {"domain": [0, 10], "nice": false}, "axis": null}, "x2": {"field": "hi"},
    "y": {"field": "gene", "type": "nominal", "scale": {"type": "point", "domain": ["CX43","Cx46","Cx37","Cx40","Cx50","Cx62","Cx32","Cx26","Cx31","Cx30.3","Cx31.1","Cx30","Cx45","Cx47","Cx36","Cx31.9","Cx40.1"], "padding": 0.77}, "axis": {"title": null, "labels": false}},
    "color": {"condition": {"test": "datum.gene == 'CX43'", "value": "#c41a1a"}, "value": "#2a7d38"}}},
  {"data": {"name": "hr"}, "transform": [{"filter": "datum.p == 3"}], "mark": {"type": "tick", "orient": "vertical", "size": 10, "thickness": 2.2},
   "encoding": {"x": {"field": "lo", "type": "quantitative", "axis": null}, "y": {"field": "gene", "type": "nominal", "title": null}, "color": {"condition": {"test": "datum.gene == 'CX43'", "value": "#c41a1a"}, "value": "#2a7d38"}}},
  {"data": {"name": "hr"}, "transform": [{"filter": "datum.p == 3"}], "mark": {"type": "tick", "orient": "vertical", "size": 10, "thickness": 2.2},
   "encoding": {"x": {"field": "hi", "type": "quantitative", "axis": null}, "y": {"field": "gene", "type": "nominal", "title": null}, "color": {"condition": {"test": "datum.gene == 'CX43'", "value": "#c41a1a"}, "value": "#2a7d38"}}},
  {"data": {"values": [{}]}, "mark": {"type": "rule", "strokeDash": [2, 3], "strokeWidth": 2, "color": "#111"}, "encoding": {"x": {"datum": 1, "axis": null}}},
  {"data": {"name": "hr"}, "transform": [{"filter": "datum.p == 3 && datum.gene == 'CX43'"}], "mark": {"type": "point", "shape": "circle", "filled": true, "size": 170, "color": "#c41a1a", "opacity": 1},
   "encoding": {"x": {"field": "hr", "type": "quantitative", "axis": null}, "y": {"field": "gene", "type": "nominal", "title": null}}},
  {"data": {"name": "hr"}, "transform": [{"filter": "datum.p == 3 && datum.gene != 'CX43'"}], "mark": {"type": "point", "shape": "M0,-1L1,0L0,1L-1,0Z M0,-1L0,1 M-1,0L1,0", "filled": false, "size": 110, "color": "#2a7d38", "strokeWidth": 1.5, "opacity": 1},
   "encoding": {"x": {"field": "hr", "type": "quantitative", "axis": null}, "y": {"field": "gene", "type": "nominal", "title": null}}},
  {"data": {"values": [{}]}, "mark": {"type": "rule", "color": "#111", "strokeWidth": 1.5}, "encoding": {"x": {"datum": 8.03, "axis": null}, "y": {"datum": "Cx46"}, "y2": {"datum": "Cx40.1"}}},
  {"data": {"values": [{}]}, "mark": {"type": "tick", "orient": "horizontal", "size": 8, "thickness": 1.5, "color": "#111"}, "encoding": {"x": {"datum": 8.03, "axis": null}, "y": {"datum": "Cx46"}}},
  {"data": {"values": [{}]}, "mark": {"type": "tick", "orient": "horizontal", "size": 8, "thickness": 1.5, "color": "#111"}, "encoding": {"x": {"datum": 8.03, "axis": null}, "y": {"datum": "Cx40.1"}}},
  {"data": {"values": [{}]}, "mark": {"type": "text", "align": "left", "fontSize": 20, "dy": 9, "color": "#111"}, "encoding": {"x": {"datum": 8.4, "axis": null}, "y": {"datum": "Cx31"}, "text": {"value": "ns"}}},
  {"data": {"values": [{}]}, "mark": {"type": "text", "align": "right", "dx": -4, "fontSize": 17, "fontStyle": "italic", "color": "#000"}, "encoding": {"x": {"datum": 5.9, "axis": null}, "y": {"datum": "CX43"}, "text": {"value": "P ="}}},
  {"data": {"values": [{}]}, "mark": {"type": "text", "align": "left", "fontSize": 17, "color": "#000"}, "encoding": {"x": {"datum": 5.9, "axis": null}, "y": {"datum": "CX43"}, "text": {"value": "0.0553"}}}
 ]},
 {"data": {"values": [{}]}, "mark": {"type": "text", "text": ""}, "encoding": {"x": {"datum": 5, "axis": {"values": [0, 2, 4, 6, 8, 10], "labelOverlap": false, "title": "Hazard ratio", "orient": "bottom"}}}}
 ]},
{"width": 188, "height": 263, "title": {"text": "MGMT+", "offset": 1},
 "resolve": {"axis": {"x": "independent"}},
 "layer": [
 {"layer": [
  {"data": {"name": "hr"}, "transform": [{"filter": "datum.p == 4"}], "mark": {"type": "rule", "strokeWidth": 2.2},
   "encoding": {"x": {"field": "lo", "type": "quantitative", "scale": {"domain": [0, 10], "nice": false}, "axis": null}, "x2": {"field": "hi"},
    "y": {"field": "gene", "type": "nominal", "scale": {"type": "point", "domain": ["CX43","Cx46","Cx37","Cx40","Cx50","Cx62","Cx32","Cx26","Cx31","Cx30.3","Cx31.1","Cx30","Cx45","Cx47","Cx36","Cx31.9","Cx40.1"], "padding": 0.77}, "axis": {"title": null, "labels": false}},
    "color": {"condition": {"test": "datum.gene == 'CX43'", "value": "#c41a1a"}, "value": "#2a7d38"}}},
  {"data": {"name": "hr"}, "transform": [{"filter": "datum.p == 4"}], "mark": {"type": "tick", "orient": "vertical", "size": 10, "thickness": 2.2},
   "encoding": {"x": {"field": "lo", "type": "quantitative", "axis": null}, "y": {"field": "gene", "type": "nominal", "title": null}, "color": {"condition": {"test": "datum.gene == 'CX43'", "value": "#c41a1a"}, "value": "#2a7d38"}}},
  {"data": {"name": "hr"}, "transform": [{"filter": "datum.p == 4"}], "mark": {"type": "tick", "orient": "vertical", "size": 10, "thickness": 2.2},
   "encoding": {"x": {"field": "hi", "type": "quantitative", "axis": null}, "y": {"field": "gene", "type": "nominal", "title": null}, "color": {"condition": {"test": "datum.gene == 'CX43'", "value": "#c41a1a"}, "value": "#2a7d38"}}},
  {"data": {"values": [{}]}, "mark": {"type": "rule", "strokeDash": [2, 3], "strokeWidth": 2, "color": "#111"}, "encoding": {"x": {"datum": 1, "axis": null}}},
  {"data": {"name": "hr"}, "transform": [{"filter": "datum.p == 4 && datum.gene == 'CX43'"}], "mark": {"type": "point", "shape": "circle", "filled": true, "size": 170, "color": "#c41a1a", "opacity": 1},
   "encoding": {"x": {"field": "hr", "type": "quantitative", "axis": null}, "y": {"field": "gene", "type": "nominal", "title": null}}},
  {"data": {"name": "hr"}, "transform": [{"filter": "datum.p == 4 && datum.gene != 'CX43'"}], "mark": {"type": "point", "shape": "M0,-1L1,0L0,1L-1,0Z M0,-1L0,1 M-1,0L1,0", "filled": false, "size": 110, "color": "#2a7d38", "strokeWidth": 1.5, "opacity": 1},
   "encoding": {"x": {"field": "hr", "type": "quantitative", "axis": null}, "y": {"field": "gene", "type": "nominal", "title": null}}},
  {"data": {"values": [{}]}, "mark": {"type": "rule", "color": "#111", "strokeWidth": 1.5}, "encoding": {"x": {"datum": 8.88, "axis": null}, "y": {"datum": "CX43"}, "y2": {"datum": "Cx40.1"}}},
  {"data": {"values": [{}]}, "mark": {"type": "tick", "orient": "horizontal", "size": 8, "thickness": 1.5, "color": "#111"}, "encoding": {"x": {"datum": 8.88, "axis": null}, "y": {"datum": "CX43"}}},
  {"data": {"values": [{}]}, "mark": {"type": "tick", "orient": "horizontal", "size": 8, "thickness": 1.5, "color": "#111"}, "encoding": {"x": {"datum": 8.88, "axis": null}, "y": {"datum": "Cx40.1"}}},
  {"data": {"values": [{}]}, "mark": {"type": "text", "align": "left", "fontSize": 20, "dy": 2, "color": "#111"}, "encoding": {"x": {"datum": 9.25, "axis": null}, "y": {"datum": "Cx31"}, "text": {"value": "ns"}}}
 ]},
 {"data": {"values": [{}]}, "mark": {"type": "text", "text": ""}, "encoding": {"x": {"datum": 5, "axis": {"values": [0, 2, 4, 6, 8, 10], "labelOverlap": false, "title": null, "orient": "bottom"}}}}
 ]},
{"width": 188, "height": 263, "title": {"text": "Recurrent GBM", "offset": 1},
 "resolve": {"axis": {"x": "independent"}},
 "layer": [
 {"layer": [
  {"data": {"name": "hr"}, "transform": [{"filter": "datum.p == 5"}], "mark": {"type": "rule", "strokeWidth": 2.2},
   "encoding": {"x": {"field": "lo", "type": "quantitative", "scale": {"type": "log", "domain": [0.1, 1000], "nice": false}, "axis": {"values": [0.1, 1, 10, 100, 1000], "format": "~g", "labelFontSize": 17, "labelOverlap": false, "title": null}}, "x2": {"field": "hi"},
    "y": {"field": "gene", "type": "nominal", "scale": {"type": "point", "domain": ["CX43","Cx46","Cx37","Cx40","Cx50","Cx62","Cx32","Cx26","Cx31","Cx30.3","Cx31.1","Cx30","Cx45","Cx47","Cx36","Cx31.9","Cx40.1"], "padding": 0.77}, "axis": {"title": null, "labels": false}},
    "color": {"condition": {"test": "datum.gene == 'CX43'", "value": "#c41a1a"}, "value": "#2a7d38"}}},
  {"data": {"name": "hr"}, "transform": [{"filter": "datum.p == 5"}], "mark": {"type": "tick", "orient": "vertical", "size": 10, "thickness": 2.2},
   "encoding": {"x": {"field": "lo", "type": "quantitative", "title": null}, "y": {"field": "gene", "type": "nominal", "title": null}, "color": {"condition": {"test": "datum.gene == 'CX43'", "value": "#c41a1a"}, "value": "#2a7d38"}}},
  {"data": {"name": "hr"}, "transform": [{"filter": "datum.p == 5"}], "mark": {"type": "tick", "orient": "vertical", "size": 10, "thickness": 2.2},
   "encoding": {"x": {"field": "hi", "type": "quantitative", "title": null}, "y": {"field": "gene", "type": "nominal", "title": null}, "color": {"condition": {"test": "datum.gene == 'CX43'", "value": "#c41a1a"}, "value": "#2a7d38"}}},
  {"data": {"values": [{}]}, "mark": {"type": "rule", "strokeDash": [2, 3], "strokeWidth": 2, "color": "#111"}, "encoding": {"x": {"datum": 1}}},
  {"data": {"name": "hr"}, "transform": [{"filter": "datum.p == 5 && datum.gene == 'CX43'"}], "mark": {"type": "point", "shape": "circle", "filled": true, "size": 170, "color": "#c41a1a", "opacity": 1},
   "encoding": {"x": {"field": "hr", "type": "quantitative", "title": null}, "y": {"field": "gene", "type": "nominal", "title": null}}},
  {"data": {"name": "hr"}, "transform": [{"filter": "datum.p == 5 && datum.gene != 'CX43'"}], "mark": {"type": "point", "shape": "M0,-1L1,0L0,1L-1,0Z M0,-1L0,1 M-1,0L1,0", "filled": false, "size": 110, "color": "#2a7d38", "strokeWidth": 1.5, "opacity": 1},
   "encoding": {"x": {"field": "hr", "type": "quantitative", "title": null}, "y": {"field": "gene", "type": "nominal", "title": null}}},
  {"data": {"values": [{}]}, "mark": {"type": "rule", "color": "#111", "strokeWidth": 1.5}, "encoding": {"x": {"datum": 171}, "y": {"datum": "Cx46"}, "y2": {"datum": "Cx36"}}},
  {"data": {"values": [{}]}, "mark": {"type": "tick", "orient": "horizontal", "size": 8, "thickness": 1.5, "color": "#111"}, "encoding": {"x": {"datum": 171}, "y": {"datum": "Cx46"}}},
  {"data": {"values": [{}]}, "mark": {"type": "tick", "orient": "horizontal", "size": 8, "thickness": 1.5, "color": "#111"}, "encoding": {"x": {"datum": 171}, "y": {"datum": "Cx36"}}},
  {"data": {"values": [{}]}, "mark": {"type": "text", "align": "left", "fontSize": 20, "dy": -4, "color": "#111"}, "encoding": {"x": {"datum": 219}, "y": {"datum": "Cx31"}, "text": {"value": "ns"}}},
  {"data": {"values": [{}]}, "mark": {"type": "text", "align": "center", "fontSize": 24, "fontWeight": "bold", "dy": 2, "color": "#111"}, "encoding": {"x": {"datum": 180}, "y": {"datum": "Cx31.9"}, "text": {"value": "*"}}},
  {"data": {"values": [{}]}, "mark": {"type": "text", "align": "left", "fontSize": 20, "dy": 3, "color": "#111"}, "encoding": {"x": {"datum": 122}, "y": {"datum": "Cx40.1"}, "text": {"value": "ns"}}},
  {"data": {"values": [{}]}, "mark": {"type": "text", "align": "right", "dx": -4, "fontSize": 17, "fontStyle": "italic", "color": "#000"}, "encoding": {"x": {"datum": 34}, "y": {"datum": "CX43"}, "text": {"value": "P ="}}},
  {"data": {"values": [{}]}, "mark": {"type": "text", "align": "left", "fontSize": 17, "dy": 2, "color": "#000"}, "encoding": {"x": {"datum": 34}, "y": {"datum": "CX43"}, "text": {"value": "0.0922"}}}
 ]},
 {"data": {"values": [{}]}, "mark": {"type": "text", "text": ""}, "encoding": {"x": {"datum": 5, "axis": {"values": [0.2, 0.3, 0.4, 0.5, 0.6, 0.7, 0.8, 0.9, 2, 3, 4, 5, 6, 7, 8, 9, 20, 30, 40, 50, 60, 70, 80, 90, 200, 300, 400, 500, 600, 700, 800, 900], "labels": false, "domain": false, "tickSize": 3, "title": null, "orient": "bottom"}}}}
 ]}
], "spacing": 42, "bounds": "flush"}
],
"spacing": 18,
"config": {
  "font": "DejaVu Sans",
  "view": {"stroke": null},
  "axis": {"grid": false, "domainColor": "#3a3a3a", "tickColor": "#3a3a3a", "domainWidth": 1.5, "tickWidth": 1.5, "tickSize": 5, "labelFontSize": 18, "labelColor": "#111", "titleFontSize": 22, "titleFontWeight": "normal", "titleColor": "#111", "labelPadding": 3, "labelOverlap": false, "labelFlush": false},
  "title": {"fontSize": 23, "fontWeight": "normal", "color": "#111"}
}
}
